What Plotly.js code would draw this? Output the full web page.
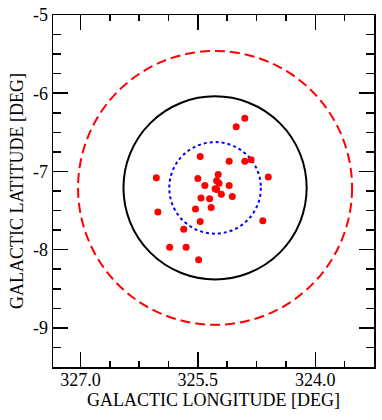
<!DOCTYPE html>
<html lang="en">
<head>
<meta charset="UTF-8">
<title>Galactic field</title>
<script src="https://cdn.plot.ly/plotly-3.0.1.min.js"></script>
<style>
    body { margin: 0; padding: 0; background: #fff; }
    #chart { width: 382px; height: 420px; }
</style>
</head>
<body>
<div id="chart"></div>
<script>
// source positions (galactic longitude / latitude, deg)
const lon = [324.90, 325.01, 324.82, 324.90, 325.10, 325.47, 326.03, 324.60, 325.24, 325.50,
             325.26, 325.23, 325.41, 325.10, 325.28, 325.26, 325.20, 325.06, 325.46, 325.35,
             325.53, 325.33, 326.01, 325.47, 324.67, 325.68, 325.86, 325.65, 325.49];
const lat = [-6.32, -6.43, -6.85, -6.87, -6.87, -6.81, -7.08, -7.07, -7.04, -7.09,
             -7.12, -7.15, -7.18, -7.18, -7.22, -7.23, -7.29, -7.32, -7.34, -7.35,
             -7.48, -7.46, -7.52, -7.64, -7.63, -7.74, -7.97, -7.97, -8.13];

// circles around the field centre
const centerLon = 325.28;
const centerLat = -7.21;
const radii = [1.75, 1.17, 0.585];
const circleColors = ['#ff0000', '#000000', '#0000ff'];
const circleDash = ['10px,5px', 'solid', 'dot'];

const xTickVals = [327.0, 325.5, 324.0];
const xTickText = ['327.0', '325.5', '324.0'];
const yTickVals = [-5, -6, -7, -8, -9];
const yTickText = ['-5', '-6', '-7', '-8', '-9'];

const shapes = radii.map((r, i) => ({
    type: 'circle',
    xref: 'x', yref: 'y',
    x0: centerLon - r, x1: centerLon + r,
    y0: centerLat - r, y1: centerLat + r,
    line: { color: circleColors[i], width: 2, dash: circleDash[i] },
    layer: 'below'
}));

const trace = {
    x: lon,
    y: lat,
    type: 'scatter',
    mode: 'markers',
    marker: { color: '#ff0000', size: 7 },
    hoverinfo: 'x+y'
};

const font = { family: '"Liberation Serif", "DejaVu Serif", serif', size: 18, color: '#000' };

const axisCommon = {
    showgrid: false,
    zeroline: false,
    showline: true,
    linecolor: '#000',
    linewidth: 1.5,
    mirror: 'allticks',
    ticks: 'inside',
    ticklen: 15,
    tickwidth: 1.5,
    tickcolor: '#000',
    tickfont: font
};

const layout = {
    width: 382,
    height: 420,
    margin: { l: 53, r: 8, t: 15, b: 53 },
    paper_bgcolor: '#fff',
    plot_bgcolor: '#fff',
    showlegend: false,
    font: font,
    shapes: shapes,
    xaxis: Object.assign({}, axisCommon, {
        range: [327.35, 323.25],
        tickmode: 'array',
        tickvals: xTickVals,
        ticktext: xTickText,
        ticklabelstandoff: -4,
        minor: { dtick: 0.375, tick0: 327.0, ticks: 'inside', ticklen: 6, tickwidth: 1.5, tickcolor: '#000' },
        title: { text: 'GALACTIC LONGITUDE [DEG]', font: font, standoff: 0 }
    }),
    yaxis: Object.assign({}, axisCommon, {
        range: [-9.5, -5],
        tickmode: 'array',
        tickvals: yTickVals,
        ticktext: yTickText,
        minor: { dtick: 0.25, tick0: -5, ticks: 'inside', ticklen: 8, tickwidth: 1.5, tickcolor: '#000' },
        title: { text: 'GALACTIC LATITUDE [DEG]', font: font, standoff: 4 }
    })
};

Plotly.newPlot('chart', [trace], layout, { displayModeBar: false, staticPlot: true });
</script>
</body>
</html>
